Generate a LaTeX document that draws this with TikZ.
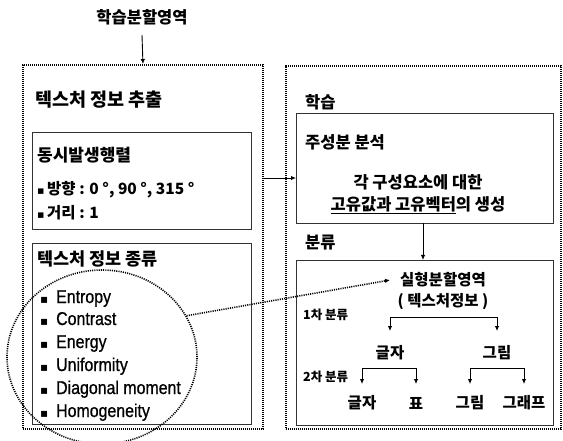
\documentclass[tikz,border=0pt]{standalone}
\usepackage{fontspec}
\setmainfont{Noto Sans CJK KR}
\newfontfamily\latinfont[FakeStretch=0.86,FakeBold=0.8]{Liberation Sans}
\newfontfamily\symfont{DejaVu Sans}
\usetikzlibrary{arrows.meta,shapes.geometric}
\begin{document}
\begin{tikzpicture}[x=1pt,y=-1pt,
  solidbox/.style={draw=black!80, line width=1.1pt, inner sep=0pt, anchor=north west},
  dotbox/.style={draw=black, line width=1.9pt, dash pattern=on 1.1pt off 0.9pt, inner sep=0pt, anchor=north west},
  dotline/.style={draw=black, line width=1.6pt, dash pattern=on 1.1pt off 1.1pt},
  arr/.style={-{Latex[length=5pt,width=4.5pt]}, line width=0.9pt, draw=black},
  both/.style={{Latex[length=5pt,width=4.5pt]}-{Latex[length=5pt,width=4.5pt]}, line width=0.9pt, draw=black},
  ko/.style={inner sep=0pt, anchor=west, font=\fontsize{#1}{#1}\selectfont\bfseries},
  koc/.style={inner sep=0pt, anchor=center, font=\fontsize{#1}{#1}\selectfont\bfseries},
  en/.style={inner sep=0pt, anchor=base west, font=\fontsize{18.5}{18.5}\selectfont\latinfont},
  bul/.style={inner sep=0pt, anchor=base west, font=\fontsize{12}{12}\selectfont\symfont}]
\useasboundingbox (0,0) rectangle (563,441);

% title
\node[koc=16.5] (title) at (142,17) {학습분할영역};

% left outer box
\node[dotbox, minimum width=240pt, minimum height=364pt] (lout) at (22,64) {};
\node[ko=18.5] (ext) at (35,100) {텍스처 정보 추출};
\node[solidbox, minimum width=219pt, minimum height=97pt] (cooc) at (32,132) {};
\node[ko=17] (coocT) at (37,155) {동시발생행렬};
\node[ko=15.5] (dir) at (37,190) {{\symfont\fontsize{11}{11}\selectfont ▪}\,방향 : 0 °, 90 °, 315 °};
\node[ko=15.5] (dist) at (37,213) {{\symfont\fontsize{11}{11}\selectfont ▪}\,거리 : 1};

\node[solidbox, minimum width=219pt, minimum height=181pt] (kind) at (32,243) {};
\node[ko=17.5] (kindT) at (37,259) {텍스처 정보 종류};
\node[bul] (b1) at (40,303) {▪};
\node[en] (e1) at (56,303) {Entropy};
\node[bul] (b2) at (40,325) {▪};
\node[en] (e2) at (56,325) {Contrast};
\node[bul] (b3) at (40,348) {▪};
\node[en] (e3) at (56,348) {Energy};
\node[bul] (b4) at (40,371) {▪};
\node[en] (e4) at (56,371) {Uniformity};
\node[bul] (b5) at (40,394) {▪};
\node[en] (e5) at (56,394) {Diagonal moment};
\node[bul] (b6) at (40,417) {▪};
\node[en] (e6) at (56,417) {Homogeneity};

% right outer box
\node[dotbox, minimum width=275pt, minimum height=363pt] (rout) at (285,65) {};
\node[ko=16.5] (learn) at (305,102) {학습};
\node[solidbox, minimum width=257pt, minimum height=110pt] (pca) at (296,113) {};
\node[ko=16.5] (pcaT) at (305,142) {주성분 분석};
\node[koc=16.5] (pca1) at (418,182) {각 구성요소에 대한};
\node[koc=16.5] (pca2) at (418,205) {\underline{고유값과 고유벡터}의 생성};

\node[ko=16.5] (clsT) at (305,243) {분류};
\node[solidbox, minimum width=257pt, minimum height=165pt] (cls) at (296,260) {};
\node[koc=15.5] (reg) at (443,280) {실형분할영역};
\node[koc=15.5] (reg2) at (443,302) {( 텍스처정보 )};
\node[ko=12.5] (lv1) at (303,315) {1차 분류};
\node[ko=12.5] (lv2) at (303,377) {2차 분류};
\node[koc=15.5] (g1) at (390,353) {글자};
\node[koc=15.5] (p1) at (497,353) {그림};
\node[koc=15.5] (g2) at (362,403) {글자};
\node[koc=15.5] (t2) at (416,403) {표};
\node[koc=15.5] (p2) at (470,403) {그림};
\node[koc=15.5] (gr2) at (524,403) {그래프};

% connectors
\coordinate (a0) at (142,35);
\draw[arr] (a0) -- (lout.north);
\coordinate (a1) at (262,178);
\draw[arr] (a1) -- (a1 -| pca.west);
\coordinate (a2) at (423,223);
\draw[arr] (a2) -- (a2 |- cls.north);

\draw[both] (g1 |- 0,331) -- (g1 |- 0,317) -- (p1 |- 0,317) -- (p1 |- 0,331);
\draw[both] (g2 |- 0,384) -- (g2 |- 0,368) -- (t2 |- 0,368) -- (t2 |- 0,384);
\draw[both] (p2 |- 0,384) -- (p2 |- 0,368) -- (gr2 |- 0,368) -- (gr2 |- 0,384);

% dotted circle and link
\node[dotline, ellipse, minimum width=190pt, minimum height=174pt, inner sep=0pt] (circ) at (102,357) {};
\coordinate (t1) at (390,280);
\draw[dotline, -{Latex[length=5pt,width=4.5pt]}] (circ.26) -- (t1);
\end{tikzpicture}
\end{document}
